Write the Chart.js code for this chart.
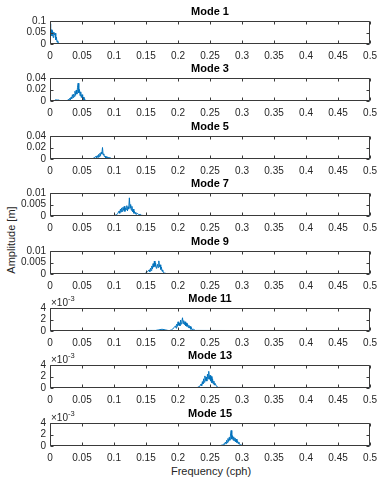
<!DOCTYPE html>
<html lang="en">
<head>
    <meta charset="UTF-8">
    <title>Mode spectra</title>
    <script src="https://cdn.jsdelivr.net/npm/chart.js"></script>
    <style>
        body {
            margin: 0;
            background: #fff;
            font-family: "Liberation Sans", Arial, sans-serif;
        }
        #figure {
            position: relative;
            width: 383px;
            height: 479px;
            overflow: hidden;
        }
        #figure canvas {
            position: absolute;
            left: 0;
        }
        .axis-label {
            position: absolute;
            font-size: 11px;
            color: #262626;
            white-space: nowrap;
        }
        #xLabel {
            left: 211px;
            top: 465px;
            transform: translateX(-50%);
        }
        #yLabel {
            left: 11px;
            top: 240px;
            transform: translate(-50%, -50%) rotate(-90deg);
        }
    </style>
</head>
<body>
    <div id="figure">
        <div id="xLabel" class="axis-label">Frequency (cph)</div>
        <div id="yLabel" class="axis-label">Amplitude [m]</div>
    </div>

    <script>
        // titles and y-axis limits of the eight panels
        const modeTitles = ['Mode 1', 'Mode 3', 'Mode 5', 'Mode 7', 'Mode 9', 'Mode 11', 'Mode 13', 'Mode 15'];
        const yMaxes = [0.1, 0.04, 0.04, 0.01, 0.01, 0.004, 0.004, 0.004];
        const xTicks = [0, 0.05, 0.1, 0.15, 0.2, 0.25, 0.3, 0.35, 0.4, 0.45, 0.5];

        // spectra, frequency (cph) and amplitude (m)
        const mode1Freq = [0, 0.001, 0.002, 0.003, 0.004, 0.005, 0.006, 0.007, 0.008, 0.009, 0.010, 0.011, 0.012, 0.013, 0.014, 0.015, 0.02, 0.5];
        const mode1Amp = [0.088, 0.042, 0.062, 0.035, 0.058, 0.028, 0.052, 0.04, 0.047, 0.018, 0.03, 0.008, 0.014, 0.004, 0.003, 0.001, 0.0004, 0.0002];

        const mode3Freq = [0, 0.007, 0.009, 0.011, 0.013, 0.016, 0.026, 0.028, 0.029, 0.030, 0.031, 0.032, 0.033, 0.034, 0.035, 0.036, 0.037, 0.038, 0.039, 0.040, 0.041, 0.042, 0.043, 0.044, 0.045, 0.046, 0.047, 0.048, 0.049, 0.050, 0.051, 0.052, 0.053, 0.054, 0.055, 0.057, 0.06, 0.5];
        const mode3Amp = [0.0003, 0.0008, 0.0022, 0.0015, 0.0018, 0.0005, 0.0004, 0.0015, 0.003, 0.001, 0.005, 0.002, 0.007, 0.004, 0.011, 0.006, 0.012, 0.008, 0.017, 0.01, 0.019, 0.012, 0.024, 0.031, 0.014, 0.02, 0.009, 0.016, 0.006, 0.011, 0.003, 0.007, 0.002, 0.004, 0.001, 0.0006, 0.0003, 0.0002];

        const mode5Freq = [0, 0.066, 0.068, 0.07, 0.072, 0.073, 0.074, 0.075, 0.076, 0.077, 0.078, 0.079, 0.080, 0.081, 0.082, 0.083, 0.084, 0.085, 0.086, 0.087, 0.088, 0.089, 0.090, 0.091, 0.092, 0.093, 0.094, 0.096, 0.098, 0.5];
        const mode5Amp = [0.0002, 0.0005, 0.0015, 0.003, 0.0045, 0.002, 0.006, 0.003, 0.008, 0.004, 0.01, 0.006, 0.012, 0.009, 0.02, 0.007, 0.009, 0.004, 0.005, 0.002, 0.004, 0.002, 0.003, 0.0015, 0.0035, 0.001, 0.002, 0.0008, 0.0003, 0.0002];

        const mode7Freq = [0, 0.06, 0.08, 0.1, 0.104, 0.106, 0.108, 0.109, 0.110, 0.111, 0.112, 0.113, 0.114, 0.115, 0.116, 0.117, 0.118, 0.119, 0.120, 0.121, 0.122, 0.123, 0.124, 0.125, 0.126, 0.127, 0.128, 0.129, 0.130, 0.131, 0.132, 0.133, 0.134, 0.135, 0.137, 0.139, 0.141, 0.143, 0.146, 0.5];
        const mode7Amp = [0.0001, 0.0002, 0.0001, 0.0002, 0.0005, 0.0012, 0.0022, 0.0012, 0.003, 0.0018, 0.0035, 0.002, 0.0038, 0.0025, 0.0042, 0.002, 0.0035, 0.0028, 0.0045, 0.0022, 0.004, 0.003, 0.0079, 0.0035, 0.005, 0.0025, 0.0042, 0.0018, 0.003, 0.0012, 0.002, 0.0009, 0.0016, 0.0007, 0.0011, 0.0005, 0.0007, 0.0003, 0.0002, 0.0001];

        const mode9Freq = [0, 0.148, 0.151, 0.153, 0.155, 0.156, 0.157, 0.158, 0.159, 0.160, 0.161, 0.162, 0.163, 0.164, 0.165, 0.166, 0.167, 0.168, 0.169, 0.170, 0.171, 0.172, 0.173, 0.174, 0.175, 0.176, 0.177, 0.179, 0.182, 0.5];
        const mode9Amp = [0.0001, 0.0002, 0.0006, 0.0012, 0.0018, 0.001, 0.0025, 0.0015, 0.0035, 0.0022, 0.0045, 0.003, 0.0056, 0.0033, 0.0048, 0.0025, 0.003, 0.0042, 0.0028, 0.0057, 0.0032, 0.004, 0.002, 0.003, 0.0012, 0.0018, 0.0007, 0.0004, 0.0002, 0.0001];

        const mode11Freq = [0, 0.165, 0.170, 0.175, 0.180, 0.186, 0.190, 0.192, 0.194, 0.196, 0.197, 0.198, 0.199, 0.200, 0.201, 0.202, 0.203, 0.204, 0.205, 0.206, 0.207, 0.208, 0.209, 0.210, 0.211, 0.212, 0.213, 0.214, 0.215, 0.216, 0.217, 0.218, 0.219, 0.220, 0.221, 0.222, 0.224, 0.227, 0.5];
        const mode11Amp = [0.00003, 0.0001, 0.0002, 0.0003, 0.0002, 0.00005, 0.0002, 0.0004, 0.0006, 0.0009, 0.0005, 0.0012, 0.0008, 0.0016, 0.001, 0.0014, 0.0009, 0.0019, 0.0012, 0.0017, 0.0023, 0.0013, 0.0018, 0.0011, 0.0016, 0.0009, 0.0014, 0.0008, 0.0012, 0.0006, 0.001, 0.0005, 0.0008, 0.0003, 0.0006, 0.0002, 0.0003, 0.0001, 0.00003];

        const mode13Freq = [0, 0.230, 0.234, 0.236, 0.237, 0.238, 0.239, 0.240, 0.241, 0.242, 0.243, 0.244, 0.245, 0.246, 0.247, 0.248, 0.249, 0.250, 0.251, 0.252, 0.253, 0.254, 0.255, 0.256, 0.257, 0.258, 0.260, 0.263, 0.5];
        const mode13Amp = [0.00003, 0.00008, 0.0003, 0.0007, 0.0004, 0.0011, 0.0007, 0.0016, 0.001, 0.0021, 0.0013, 0.0019, 0.0012, 0.0024, 0.0016, 0.0029, 0.0015, 0.0022, 0.0012, 0.002, 0.0009, 0.0016, 0.0007, 0.0012, 0.0005, 0.0008, 0.0003, 0.0001, 0.00003];

        const mode15Freq = [0, 0.266, 0.270, 0.272, 0.273, 0.274, 0.275, 0.276, 0.277, 0.278, 0.279, 0.280, 0.281, 0.282, 0.283, 0.284, 0.285, 0.286, 0.287, 0.288, 0.289, 0.290, 0.291, 0.292, 0.293, 0.294, 0.295, 0.296, 0.298, 0.301, 0.5];
        const mode15Amp = [0.00003, 0.00008, 0.0002, 0.0004, 0.0003, 0.0007, 0.0004, 0.001, 0.0006, 0.0013, 0.0008, 0.0015, 0.001, 0.0019, 0.0027, 0.0012, 0.0018, 0.001, 0.0016, 0.0009, 0.0014, 0.0007, 0.0012, 0.0006, 0.0009, 0.0004, 0.0007, 0.0003, 0.0002, 0.00008, 0.00003];

        const modeFreqs = [mode1Freq, mode3Freq, mode5Freq, mode7Freq, mode9Freq, mode11Freq, mode13Freq, mode15Freq];
        const modeAmps = [mode1Amp, mode3Amp, mode5Amp, mode7Amp, mode9Amp, mode11Amp, mode13Amp, mode15Amp];

        const FONT = '"Liberation Sans", Arial, sans-serif';
        const AXIS_COLOR = '#262626';
        const figure = document.getElementById('figure');

        // matlab style box with inward ticks, plus the x10^-3 multiplier
        const boxPlugin = {
            id: 'matlabBox',
            afterDraw(chart) {
                const ctx = chart.ctx;
                const a = chart.chartArea;
                const xs = chart.scales.x;
                const ys = chart.scales.y;
                const L = Math.round(a.left) + 0.5, R = Math.round(a.right) - 0.5;
                const T = Math.round(a.top) + 0.5, B = Math.round(a.bottom) - 0.5;
                ctx.save();
                ctx.strokeStyle = '#3a3a3a';
                ctx.lineWidth = 1;
                ctx.beginPath();
                ctx.rect(L, T, R - L, B - T);
                xs.ticks.forEach(t => {
                    const px = Math.round(xs.getPixelForValue(t.value)) + 0.5;
                    ctx.moveTo(px, B); ctx.lineTo(px, B - 3);
                    ctx.moveTo(px, T); ctx.lineTo(px, T + 3);
                });
                ys.ticks.forEach(t => {
                    const py = Math.round(ys.getPixelForValue(t.value)) + 0.5;
                    ctx.moveTo(L, py); ctx.lineTo(L + 3, py);
                    ctx.moveTo(R, py); ctx.lineTo(R - 3, py);
                });
                ctx.stroke();

                if (chart.options.plugins.matlabBox.scaled) {
                    ctx.fillStyle = AXIS_COLOR;
                    ctx.textBaseline = 'alphabetic';
                    ctx.textAlign = 'left';
                    ctx.font = '10px ' + FONT;
                    ctx.fillText('\u00d710', a.left + 1, a.top - 2);
                    const w = ctx.measureText('\u00d710').width;
                    ctx.font = '7.5px ' + FONT;
                    ctx.fillText('-3', a.left + 1 + w, a.top - 7);
                }
                ctx.restore();
            }
        };

        function fmt(v) {
            return String(+v.toFixed(4));
        }

        modeTitles.forEach((title, i) => {
            const plotTop = Math.round(21 + i * 57.4);
            const canvas = document.createElement('canvas');
            canvas.width = 383;
            canvas.height = 61;
            canvas.style.top = (plotTop - 22) + 'px';
            figure.appendChild(canvas);

            const yMax = yMaxes[i];
            const scaled = yMax < 0.005;
            const points = modeFreqs[i].map((f, k) => ({ x: f, y: modeAmps[i][k] }));

            new Chart(canvas, {
                type: 'line',
                data: {
                    datasets: [{
                        data: points,
                        borderColor: '#0072BD',
                        borderWidth: 1,
                        pointRadius: 0,
                        tension: 0,
                        fill: false
                    }]
                },
                options: {
                    responsive: false,
                    animation: false,
                    events: [],
                    layout: { padding: { left: 0, right: 10, top: 0, bottom: 0 } },
                    scales: {
                        x: {
                            type: 'linear',
                            min: 0,
                            max: 0.5,
                            grid: { display: false, drawTicks: false },
                            border: { display: false },
                            afterBuildTicks: s => { s.ticks = xTicks.map(v => ({ value: v })); },
                            afterFit: s => { s.height = 16; },
                            ticks: {
                                autoSkip: false,
                                maxRotation: 0,
                                padding: 6,
                                color: AXIS_COLOR,
                                font: { family: FONT, size: 10 },
                                callback: v => String(+v.toFixed(2))
                            }
                        },
                        y: {
                            min: 0,
                            max: yMax,
                            grid: { display: false, drawTicks: false },
                            border: { display: false },
                            afterBuildTicks: s => { s.ticks = [0, yMax / 2, yMax].map(v => ({ value: v })); },
                            afterFit: s => { s.width = 50; },
                            ticks: {
                                autoSkip: false,
                                padding: 4,
                                color: AXIS_COLOR,
                                font: { family: FONT, size: 10, lineHeight: 1 },
                                callback: v => scaled ? fmt(v * 1000) : fmt(v)
                            }
                        }
                    },
                    plugins: {
                        legend: { display: false },
                        tooltip: { enabled: false },
                        title: {
                            display: true,
                            text: title,
                            fullSize: false,
                            color: '#000',
                            font: { family: FONT, size: 11, weight: 'bold', lineHeight: 1.2 },
                            padding: { top: 6, bottom: 2.8 }
                        },
                        matlabBox: { scaled: scaled }
                    }
                },
                plugins: [boxPlugin]
            });
        });
    </script>
</body>
</html>
